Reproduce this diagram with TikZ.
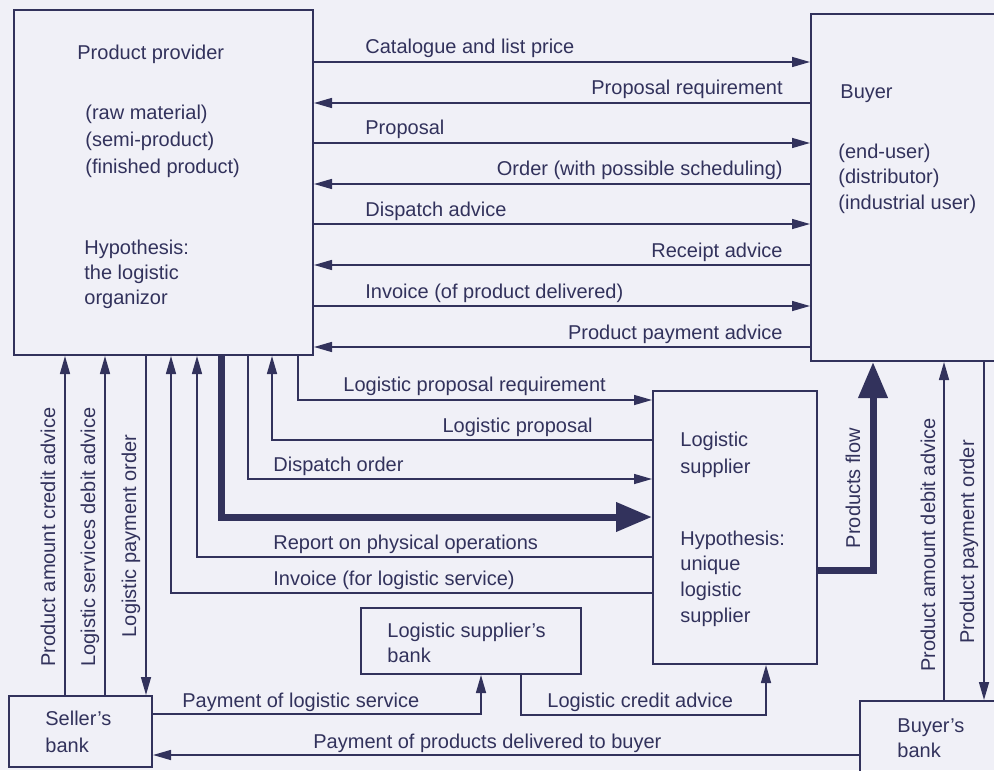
\documentclass[tikz,border=0pt]{standalone}
\usepackage{fontspec}
\setmainfont{Liberation Sans}
\usetikzlibrary{fit,arrows.meta}
\definecolor{ink}{RGB}{50,50,92}
\definecolor{paper}{RGB}{240,240,247}
\begin{document}
\begin{tikzpicture}[x=0.5pt,y=-0.5pt,
  box/.style={draw=ink, line width=1pt, inner sep=0pt},
  txt/.style={text=ink, font=\fontsize{10}{12}\selectfont, inner sep=0pt, anchor=base west},
  rtxt/.style={txt, anchor=base east},
  vtxt/.style={txt, anchor=base, rotate=90},
  flow/.style={draw=ink, line width=0.75pt, -{Triangle[length=9pt,width=5pt]}},
  heavy/.style={draw=ink, line width=3.5pt, -{Triangle[length=18pt,width=14pt]}},
]
\fill[paper] (0,0) rectangle (994,770);
\useasboundingbox (0,0) rectangle (994,770);
\clip (0,0) rectangle (994,770);

% boxes
\node[box, fit={(14,10) (313,355)}] (pp) {};
\node[box, fit={(811,14) (1010,361)}] (buyer) {};
\node[box, fit={(653,391) (817,664)}] (ls) {};
\node[box, fit={(361,608) (581,674)}] (lsb) {};
\node[box, fit={(9,696) (152,767)}] (sb) {};
\node[box, fit={(860,701) (1010,800)}] (bb) {};

% box texts
\node[txt] (pp1) at (77,60) {Product provider};
\node[txt] (pp2) at (85,120) {(raw material)};
\node[txt] (pp3) at (85,147) {(semi-product)};
\node[txt] (pp4) at (85,174) {(finished product)};
\node[txt] (pp5) at (84,254) {Hypothesis:};
\node[txt] (pp6) at (84,279) {the logistic};
\node[txt] (pp7) at (84,304) {organizor};

\node[txt] (by1) at (840,99) {Buyer};
\node[txt] (by2) at (838,159) {(end-user)};
\node[txt] (by3) at (838,184) {(distributor)};
\node[txt] (by4) at (838,209) {(industrial user)};

\node[txt] (ls1) at (680,446) {Logistic};
\node[txt] (ls2) at (680,473) {supplier};
\node[txt] (ls3) at (680,545) {Hypothesis:};
\node[txt] (ls4) at (680,570) {unique};
\node[txt] (ls5) at (680,596) {logistic};
\node[txt] (ls6) at (680,622) {supplier};

\node[txt] (lb1) at (387,637) {Logistic supplier's};
\node[txt] (lb2) at (387,662) {bank};

\node[txt] (sb1) at (45,725) {Seller's};
\node[txt] (sb2) at (45,752) {bank};

\node[txt] (bb1) at (897,732) {Buyer's};
\node[txt] (bb2) at (897,757) {bank};

% product provider <-> buyer
\draw[flow] (pp.east |- 0,62) -- (buyer.west |- 0,62);
\draw[flow] (buyer.west |- 0,103) -- (pp.east |- 0,103);
\draw[flow] (pp.east |- 0,143) -- (buyer.west |- 0,143);
\draw[flow] (buyer.west |- 0,184) -- (pp.east |- 0,184);
\draw[flow] (pp.east |- 0,224) -- (buyer.west |- 0,224);
\draw[flow] (buyer.west |- 0,265) -- (pp.east |- 0,265);
\draw[flow] (pp.east |- 0,306) -- (buyer.west |- 0,306);
\draw[flow] (buyer.west |- 0,347) -- (pp.east |- 0,347);

\node[txt] (l1) at (365,54) {Catalogue and list price};
\node[rtxt] (l2) at (783,95) {Proposal requirement};
\node[txt] (l3) at (365,135) {Proposal};
\node[rtxt] (l4) at (783,176) {Order (with possible scheduling)};
\node[txt] (l5) at (365,216) {Dispatch advice};
\node[rtxt] (l6) at (783,257) {Receipt advice};
\node[txt] (l7) at (365,298) {Invoice (of product delivered)};
\node[rtxt] (l8) at (783,339) {Product payment advice};

% product provider <-> logistic supplier
\draw[flow] (pp.south -| 298,0) |- (ls.west |- 0,400);
\draw[flow] (ls.west |- 0,440) -| (pp.south -| 272,0);
\draw[flow] (pp.south -| 248,0) |- (ls.west |- 0,479);
\draw[heavy] (pp.south -| 221,0) |- (ls.west |- 0,517);
\draw[flow] (ls.west |- 0,557) -| (pp.south -| 197,0);
\draw[flow] (ls.west |- 0,593) -| (pp.south -| 171,0);

\node[txt] (m1) at (343,391) {Logistic proposal requirement};
\node[rtxt] (m2) at (593,432) {Logistic proposal};
\node[txt] (m3) at (273,471) {Dispatch order};
\node[txt] (m4) at (273,549) {Report on physical operations};
\node[txt] (m5) at (273,585) {Invoice (for logistic service)};

% seller's bank <-> product provider
\draw[flow] (sb.north -| 65,0) -- (pp.south -| 65,0);
\draw[flow] (sb.north -| 105,0) -- (pp.south -| 105,0);
\draw[flow] (pp.south -| 146,0) -- (sb.north -| 146,0);
\node[vtxt] (v1) at (55,537) {Product amount credit advice};
\node[vtxt] (v2) at (95,537) {Logistic services debit advice};
\node[vtxt] (v3) at (136,536) {Logistic payment order};

% buyer side
\draw[heavy] (ls.east |- 0,570) -| (buyer.south -| 873,0);
\draw[flow] (bb.north -| 944,0) -- (buyer.south -| 944,0);
\draw[flow] (buyer.south -| 984,0) -- (bb.north -| 984,0);
\node[vtxt] (v4) at (860,488) {Products flow};
\node[vtxt] (v5) at (935,545) {Product amount debit advice};
\node[vtxt] (v6) at (974,542) {Product payment order};

% banks
\draw[flow] (sb.east |- 0,714) -| (lsb.south -| 481,0);
\coordinate (lc) at (521,715);
\draw[flow] (lsb.south -| 521,0) -- (lc) -| (ls.south -| 766,0);
\draw[flow] (bb.west |- 0,755) -- (sb.east |- 0,755);

\node[txt] (b1) at (182,707) {Payment of logistic service};
\node[txt] (b2) at (547,707) {Logistic credit advice};
\node[txt] (b3) at (313,748) {Payment of products delivered to buyer};
\end{tikzpicture}
\end{document}
